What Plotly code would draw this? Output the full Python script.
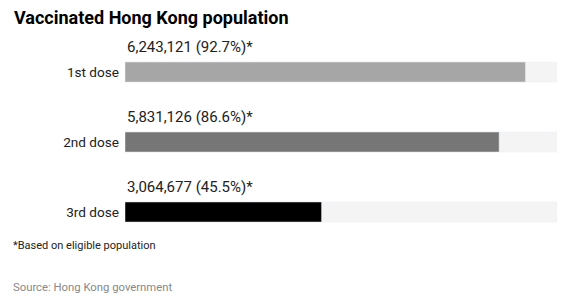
import plotly.graph_objects as go

categories = ["1st dose", "2nd dose", "3rd dose"]
counts = [6243121, 5831126, 3064677]
percents = [92.7, 86.6, 45.5]
colors = ["#a6a6a6", "#767676", "#000000"]
full = [100, 100, 100]

W, H = 573, 304
fig = go.Figure()
fig.add_trace(go.Bar(y=categories, x=full, orientation="h", marker_color="#f4f4f4",
                     width=0.286, hoverinfo="skip", showlegend=False))
fig.add_trace(go.Bar(y=categories, x=percents, orientation="h", marker_color=colors,
                     width=0.286, showlegend=False))

for c, n, p in zip(categories, counts, percents):
    fig.add_annotation(x=0, y=c, xref="x", yref="y", xanchor="left", yanchor="middle",
                       yshift=25, showarrow=False,
                       text=f"{n:,} ({p}%)*",
                       font=dict(family="Roboto", size=15, color="#222"))

fig.add_annotation(x=12 / W, y=1 - 17 / H, xref="paper", yref="paper", xanchor="left",
                   yanchor="middle", showarrow=False, text="<b>Vaccinated Hong Kong population</b>",
                   font=dict(family="Roboto", size=18, color="#000", weight=900))
fig.add_annotation(x=11 / W, y=1 - 245 / H, xref="paper", yref="paper", xanchor="left",
                   yanchor="middle", showarrow=False, text="*Based on eligible population",
                   font=dict(family="Roboto", size=11, color="#222"))
fig.add_annotation(x=11 / W, y=1 - 287 / H, xref="paper", yref="paper", xanchor="left",
                   yanchor="middle", showarrow=False, text="Source: Hong Kong government",
                   font=dict(family="Roboto", size=11.3, color="#888"))

fig.update_layout(
    width=W, height=H, margin=dict(l=0, r=0, t=0, b=0),
    paper_bgcolor="white", plot_bgcolor="white", barmode="overlay",
    xaxis=dict(domain=[125 / W, 557 / W], range=[0, 100], visible=False, fixedrange=True),
    yaxis=dict(domain=[0, 1], range=[3.314, -1.029], type="category",
               categoryorder="array", categoryarray=categories,
               showgrid=False, zeroline=False, showline=False, ticks="",
               ticklabelstandoff=5,
               tickfont=dict(family="Roboto", size=13.6, color="#222")),
)
fig.write_html("out.html")
